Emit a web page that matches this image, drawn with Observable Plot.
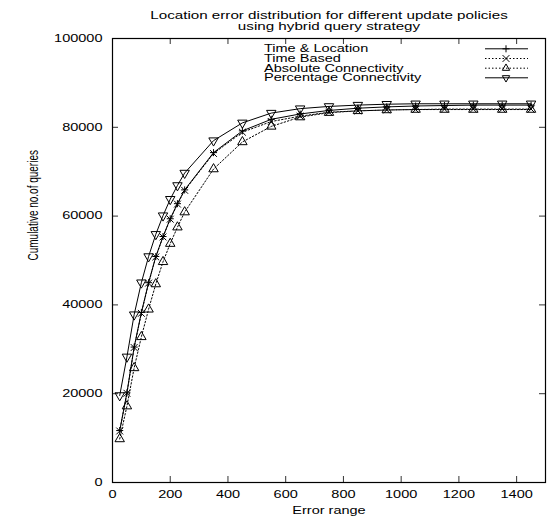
<!DOCTYPE html>
<html><head><meta charset="utf-8">
<script src="https://cdn.jsdelivr.net/npm/d3@7"></script>
<script src="https://cdn.jsdelivr.net/npm/@observablehq/plot@0.6"></script>
<style>
body{margin:0;background:#fff;}
#wrap{width:552px;height:517px;position:relative;font-family:"Liberation Sans",Arial,Helvetica,sans-serif;background:#fff;overflow:hidden;}
#title{height:32px;}
#title div{position:absolute;left:329px;font-size:11px;line-height:11px;color:#000;white-space:nowrap;transform:translateX(-50%) scaleX(1.38);}
#chart svg{display:block;overflow:visible;}
</style></head>
<body>
<div id="wrap">
  <div id="title">
    <div style="top:10px">Location error distribution for different update policies</div>
    <div style="top:21px">using hybrid query strategy</div>
  </div>
  <div id="chart"></div>
</div>
<script>
// ---- data ----
const errorRange = [25,50,75,100,125,150,175,200,225,250,350,450,550,650,750,850,950,1050,1150,1250,1350,1450];
const timeLocation = [11700,20200,30500,38300,45000,50900,55400,59400,62800,65900,74300,79200,81800,83000,83800,84300,84600,84800,84900,85000,85000,85000];
const timeBased    = [11600,20100,30400,38100,44900,50800,55300,59300,62700,65800,74100,78900,81300,82500,83400,83700,83900,84000,84100,84100,84100,84100];
const absoluteConn = [9800,17200,25800,32800,39000,44700,49700,53800,57500,60900,70600,76700,80200,82300,83300,83700,83900,84000,84000,84000,84000,84000];
const percentConn  = [19600,28300,37800,45000,50900,55900,60100,63800,66900,69700,77000,81000,83200,84200,84700,85000,85200,85300,85300,85300,85300,85300];
const seriesNames = ["Time & Location","Time Based","Absolute Connectivity","Percentage Connectivity"];
const xTicks = [0,200,400,600,800,1000,1200,1400];
const yTicks = [0,20000,40000,60000,80000,100000];
const xLabel = "Error range";
const yLabel = "Cumulative no.of queries";

const seriesValues = [timeLocation, timeBased, absoluteConn, percentConn];
const styles = [
  {dash:null, symbol:"plus", r:2.4, rotate:0},
  {dash:"1.5,2", symbol:"times", r:3.2, rotate:0},
  {dash:"1.5,2", symbol:"triangle", r:3.5, rotate:0},
  {dash:null, symbol:"triangle", r:3.5, rotate:180}
];
const rows = [];
seriesNames.forEach((name,i)=>seriesValues[i].forEach((v,j)=>rows.push({series:name, x:errorRange[j], y:v})));

const W=552, H=485, mL=112, mR=7, mT=6, mB=35;
const innerW=W-mL-mR, innerH=H-mT-mB;

const seriesMarks = [];
seriesNames.forEach((name,i)=>{
  const d = rows.filter(r=>r.series===name);
  const s = styles[i];
  seriesMarks.push(Plot.line(d,{x:"x",y:"y",stroke:"#000",strokeWidth:1,strokeDasharray:s.dash}));
  seriesMarks.push(Plot.dot(d,{x:"x",y:"y",symbol:s.symbol,r:s.r,rotate:s.rotate,stroke:"#000",fill:"none",strokeWidth:1}));
});

const chart = Plot.plot({
  width:W, height:H, marginLeft:mL, marginRight:mR, marginTop:mT, marginBottom:mB,
  style:{fontFamily:"'Liberation Sans', Arial, Helvetica, sans-serif", fontSize:"10px", color:"#000", background:"#fff"},
  x:{domain:[0,1500]},
  y:{domain:[0,100000]},
  marks:[
    Plot.axisX({ticks:xTicks, tickSize:0, tickPadding:8, tickFormat:d3.format("d"), label:null}),
    Plot.axisY({ticks:yTicks, tickSize:0, tickPadding:10, tickFormat:d3.format("d"), label:null}),
    Plot.tickY(yTicks,{y:d=>d, insetRight:innerW-6, stroke:"#333"}),
    Plot.tickY(yTicks,{y:d=>d, insetLeft:innerW-6, stroke:"#333"}),
    Plot.tickX(xTicks,{x:d=>d, insetTop:innerH-6, stroke:"#333"}),
    Plot.tickX(xTicks,{x:d=>d, insetBottom:innerH-6, stroke:"#333"}),
    ...seriesMarks,
    Plot.frame({stroke:"#000", strokeWidth:1.2}),
    Plot.text([xLabel],{text:d=>d, frameAnchor:"bottom", dy:28, lineAnchor:"middle", fontSize:10}),
    Plot.text([yLabel],{text:d=>d, frameAnchor:"left", dx:-79, rotate:-90, lineAnchor:"middle", fontSize:10})
  ]
});
document.getElementById("chart").appendChild(chart);

// ---- legend (inside plot, top right) ----
const svg = d3.select(chart);
const lg = svg.append("g").attr("font-family","'Liberation Sans', Arial, Helvetica, sans-serif").attr("font-size",10).attr("text-anchor","start");
const rowY = [16.8, 26.5, 36.2, 45.8];
const symMap = {plus:d3.symbolPlus, times:d3.symbolTimes, triangle:d3.symbolTriangle2};
seriesNames.forEach((name,i)=>{
  const s = styles[i], y = rowY[i];
  lg.append("text").attr("x",264).attr("y",y).attr("dy","0.35em").attr("fill","#000").attr("text-anchor","start").text(name);
  lg.append("line").attr("x1",485).attr("x2",528).attr("y1",y).attr("y2",y)
    .attr("stroke","#000").attr("stroke-width",1).attr("stroke-dasharray",s.dash);
  lg.append("path").attr("d",d3.symbol(symMap[s.symbol], Math.PI*s.r*s.r)())
    .attr("transform",`translate(506,${y}) rotate(${s.rotate})`)
    .attr("fill","none").attr("stroke","#000").attr("stroke-width",1);
});

// ---- horizontal stretch of lettering, as in the reference ----
const SX = 1.45;
chart.querySelectorAll("text").forEach(t=>{
  const tr = t.getAttribute("transform")||"";
  if (tr.includes("rotate")) {
    t.setAttribute("transform", tr + " scale(1,"+SX+")");
  } else {
    const w = t.getComputedTextLength();
    if (w>0) { t.setAttribute("textLength", w*SX); t.setAttribute("lengthAdjust","spacingAndGlyphs"); }
  }
});
</script>
</body></html>
